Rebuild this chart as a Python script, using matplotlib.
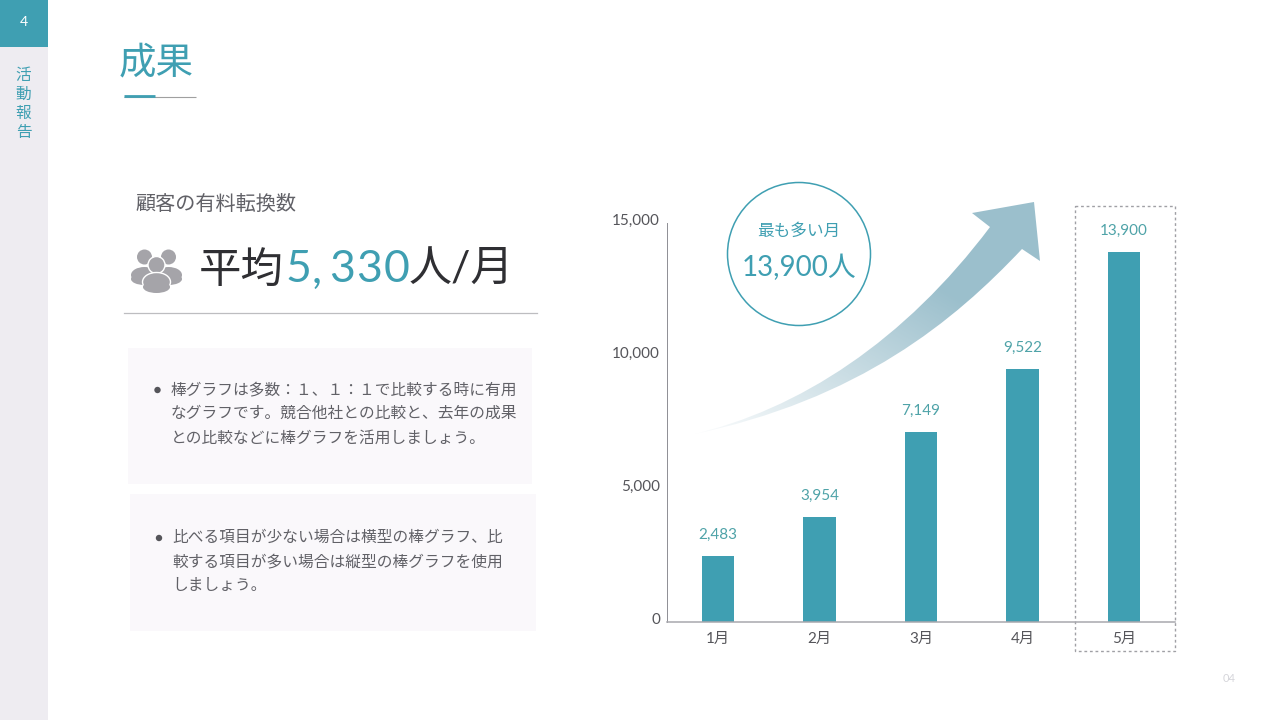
import numpy as np
import matplotlib
matplotlib.use("Agg")
import matplotlib.pyplot as plt
from matplotlib.patches import Rectangle, Circle, Ellipse, PathPatch
from matplotlib.path import Path
from matplotlib.transforms import ScaledTranslation

plt.rcParams["font.family"] = ["Lato", "Noto Sans CJK JP", "DejaVu Sans"]

# Chart data
months = ["1月", "2月", "3月", "4月", "5月"]
customers = [2483, 3954, 7149, 9522, 13900]
y_ticks = [0, 5000, 10000, 15000]

# Slide texts
body_first = ["棒グラフは多数：１、１：１で比較する時に有用",
              "なグラフです。競合他社との比較と、去年の成果",
              "との比較などに棒グラフを活用しましょう。"]
body_second = ["比べる項目が少ない場合は横型の棒グラフ、比",
               "較する項目が多い場合は縦型の棒グラフを使用",
               "しましょう。"]
side_label = ["活", "動", "報", "告"]
average_chars = ["5", ",", "3", "3", "0"]

TEAL = "#3f9fb2"
DARK = "#2f2f33"
GREY = "#616167"
W, H = 1280, 720

fig = plt.figure(figsize=(12.8, 7.2), dpi=100, facecolor="white")

# Background layer in pixel coordinates for the slide decoration
bg = fig.add_axes([0, 0, 1, 1])
bg.set_xlim(0, W)
bg.set_ylim(H, 0)
bg.axis("off")

# Sidebar
bg.add_patch(Rectangle((0, 0), 48, H, fc="#eeecf1", ec="none"))
bg.add_patch(Rectangle((0, 0), 48, 47, fc=TEAL, ec="none"))
bg.text(23.5, 22.5, "4", color="white", fontsize=10, ha="center", va="center")
for i, ch in enumerate(side_label):
    bg.text(23.5, 75.5 + i * 19.3, ch, color=TEAL, fontsize=11.3, ha="center", va="center")
bg.text(1229, 678.5, "04", color="#d5d5da", fontsize=8, ha="center", va="center")

# Title
bg.text(119, 62, "成果", color=TEAL, fontsize=27, ha="left", va="center")
bg.plot([124, 196], [96.5, 96.5], color="#a0a0a0", lw=0.8, solid_capstyle="butt")
bg.plot([124, 155], [96.3, 96.3], color=TEAL, lw=2, solid_capstyle="butt")

# Left headline
bg.text(135, 203, "顧客の有料転換数", color=GREY, fontsize=14.5, ha="left", va="center")
bg.text(199, 270, "平均", color=DARK, fontsize=30.5, ha="left", va="center")
for ch, cx in zip(average_chars, [298, 317, 342, 369, 397]):
    bg.text(cx, 270, ch, color=TEAL, fontsize=32, ha="center", va="center")
bg.text(409, 270, "人/月", color=DARK, fontsize=31, ha="left", va="center")
bg.plot([124, 537], [312.5, 312.5], color="#bdbdc0", lw=0.9)

# People icon
ICON = "#a5a4a9"
for cx in (144.5, 168.5):
    bg.add_patch(Circle((cx, 257), 7.5, fc=ICON, ec="none"))
    bg.add_patch(Ellipse((cx, 275), 27, 16, fc=ICON, ec="none"))
    bg.add_patch(Ellipse((cx, 279), 27, 12, fc=ICON, ec="none"))
bg.add_patch(Circle((156.5, 265), 8.5, fc=ICON, ec="white", lw=1))
bg.add_patch(Ellipse((156.5, 282), 28, 19, fc=ICON, ec="white", lw=1))
bg.add_patch(Ellipse((156.5, 287), 27, 12, fc=ICON, ec="none"))

# Text panels
bg.add_patch(Rectangle((128, 348), 404, 136, fc="#faf8fb", ec="none"))
bg.add_patch(Rectangle((130, 494), 406, 137, fc="#faf8fb", ec="none"))
for lines, x, y0 in [(body_first, 171, 390), (body_second, 172.5, 538)]:
    bg.add_patch(Circle((x - 13.5, y0), 3.2, fc="#55555a", ec="none"))
    for i, line in enumerate(lines):
        bg.text(x, y0 + i * 24, line, color=GREY, fontsize=11.3, ha="left", va="center")

# Gradient arrow
arrow_verts = [(690, 435), (800, 410), (905, 340), (990, 227),
               (972, 213), (1034, 202), (1040, 261), (1022, 249),
               (955, 320), (860, 400), (690, 435), (690, 435)]
arrow_codes = [Path.MOVETO, Path.CURVE4, Path.CURVE4, Path.CURVE4,
               Path.LINETO, Path.LINETO, Path.LINETO, Path.LINETO,
               Path.CURVE4, Path.CURVE4, Path.CURVE4, Path.CLOSEPOLY]
arrow_path = Path(arrow_verts, arrow_codes)
xx, yy = np.meshgrid(np.linspace(680, 1050, 370), np.linspace(195, 445, 250))
fade = np.clip(((xx - 685) / 255 + (438 - yy) / 150) / 2, 0, 1)
rgba = np.zeros(xx.shape + (4,))
rgba[..., :3] = matplotlib.colors.to_rgb("#9bbfcc")
rgba[..., 3] = fade
im = bg.imshow(rgba, extent=(680, 1050, 445, 195), aspect="auto", zorder=2)
clip = PathPatch(arrow_path, transform=bg.transData, fc="none", ec="none")
bg.add_patch(clip)
im.set_clip_path(clip)
bg.set_xlim(0, W)
bg.set_ylim(H, 0)

# Highlight circle
bg.add_patch(Circle((799, 254), 71.5, fc="white", ec=TEAL, lw=1.1, zorder=3))
bg.text(799, 231, "最も多い月", color=TEAL, fontsize=12, ha="center", va="center", zorder=4)
bg.text(799, 267.5, "13,900人", color=TEAL, fontsize=20, ha="center", va="center", zorder=4)

# Dashed box around the last month
bg.add_patch(Rectangle((1075, 205.5), 100, 445.5, fc="none", ec="#a0a0a5", lw=1,
                       ls=(0, (2, 2)), zorder=4))

# Bar chart
ax = fig.add_axes([667 / W, 1 - 622 / H, 508 / W, 399 / H])
ax.patch.set_alpha(0)
x = np.arange(len(months))
bars = ax.bar(x, customers, width=0.32, color=TEAL)
ax.set_xlim(-0.5, len(months) - 0.5)
ax.set_ylim(0, 15000)
ax.set_xticks(x, months)
ax.set_yticks(y_ticks, [f"{v:,}" for v in y_ticks])
ax.tick_params(axis="both", length=0, labelsize=11, labelcolor="#55555a")
ax.tick_params(axis="x", pad=7)
ax.tick_params(axis="y", pad=5)
# y labels sit a little above their tick position
lift = ScaledTranslation(0, 2 / 100, fig.dpi_scale_trans)
for label in ax.get_yticklabels():
    label.set_verticalalignment("center")
    label.set_transform(label.get_transform() + lift)
for side in ("top", "right"):
    ax.spines[side].set_visible(False)
ax.spines["left"].set_color("#8e8e94")
ax.spines["left"].set_linewidth(0.7)
ax.spines["bottom"].set_color("#a8a8ae")
ax.spines["bottom"].set_linewidth(1.1)
ax.bar_label(bars, labels=[f"{v:,}" for v in customers], padding=10,
             color="#4fa3a8", fontsize=11)

fig.savefig("out.png", dpi=100)
